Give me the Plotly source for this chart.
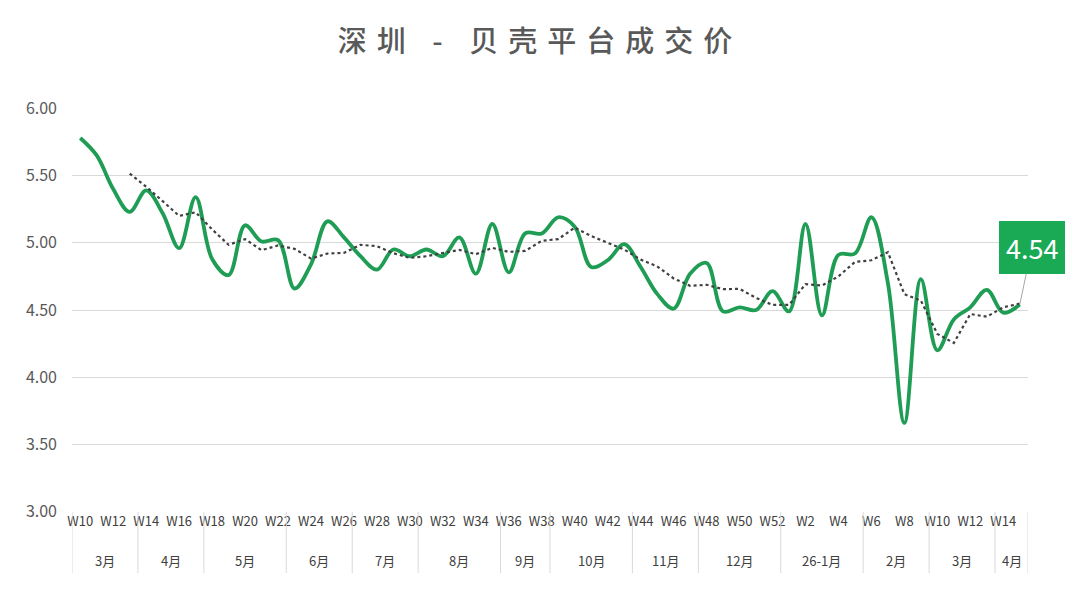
import plotly.graph_objects as go

# ---------------- data ----------------
weeks = ["W%d" % w for w in range(10, 53)] + ["W%d" % w for w in range(1, 16)]
month_groups = ["3月", "4月", "5月", "6月", "7月", "8月", "9月", "10月",
                "11月", "12月", "26-1月", "2月", "3月", "4月"]
month_sizes = [4, 4, 5, 4, 4, 5, 3, 5, 4, 5, 5, 4, 4, 2]
price = [5.78, 5.65, 5.40, 5.23, 5.39, 5.22, 4.96, 5.34, 4.88, 4.76,
         5.13, 5.01, 5.02, 4.66, 4.84, 5.16, 5.04, 4.90, 4.80, 4.95,
         4.90, 4.95, 4.90, 5.04, 4.77, 5.14, 4.78, 5.07, 5.07, 5.19,
         5.12, 4.82, 4.87, 4.99, 4.82, 4.62, 4.51, 4.77, 4.85, 4.49,
         4.52, 4.50, 4.64, 4.49, 5.14, 4.46, 4.91, 4.92, 5.19, 4.70,
         3.66, 4.73, 4.20, 4.43, 4.52, 4.65, 4.48, 4.54]
ma_period = 4
title = "深圳 - 贝壳平台成交价"
yticks = [3.0, 3.5, 4.0, 4.5, 5.0, 5.5, 6.0]

# ---------------- derived ----------------
idx = list(range(len(weeks)))
ma = [None] * len(price)
for i in range(ma_period - 1, len(price)):
    ma[i] = sum(price[i - ma_period + 1:i + 1]) / ma_period

FONT = "Noto Sans CJK SC, Noto Sans, sans-serif"
GREEN = "#1F9D55"

fig = go.Figure()
fig.add_trace(go.Scatter(
    x=idx, y=price, mode="lines",
    line=dict(color=GREEN, width=3.8, shape="spline", smoothing=1.0),
    showlegend=False, hoverinfo="skip"))
fig.add_trace(go.Scatter(
    x=idx, y=ma, mode="lines",
    line=dict(color="#404040", width=2.2, dash="dot"),
    showlegend=False, hoverinfo="skip"))

# last value label
fig.add_annotation(
    x=idx[-1], y=price[-1], xref="x", yref="y",
    text="%.2f" % price[-1], showarrow=True, arrowhead=0, arrowwidth=1,
    arrowcolor="#A6A6A6", ax=12, ay=-57,
    bgcolor="#1AA955", bordercolor="#1AA955", borderpad=6,
    font=dict(family=FONT, size=27, color="white"))

# month group labels and dividers
plot_h = 404.0
start = 0
bounds = [-0.5]
for name, n in zip(month_groups, month_sizes):
    center = start + (n - 1) / 2.0
    fig.add_annotation(x=center, y=-48 / plot_h, xref="x", yref="paper",
                       yanchor="middle", xanchor="center",
                       text=name, showarrow=False,
                       font=dict(family=FONT, size=13, color="#404040"))
    start += n
    bounds.append(start - 0.5)
for b in bounds:
    fig.add_shape(type="line", xref="x", yref="paper", x0=b, x1=b,
                  y0=0, y1=-61 / plot_h,
                  line=dict(color="#D9D9D9", width=1))

fig.update_layout(
    width=1080, height=601,
    paper_bgcolor="white", plot_bgcolor="white",
    margin=dict(l=72, r=52, t=108, b=89),
    title=dict(text=title, x=0.5, xanchor="center", y=1 - 42 / 601,
               yanchor="middle",
               font=dict(family=FONT, size=29, color="#595959", weight=500)),
    xaxis=dict(range=[-0.5, len(weeks) - 0.5], tickmode="array",
               tickvals=idx[::2], ticktext=weeks[::2],
               showgrid=False, zeroline=False, showline=False, ticks="",
               tickfont=dict(family=FONT, size=13, color="#404040"),
               fixedrange=True),
    yaxis=dict(range=[2.997, 6.003], tickmode="array", tickvals=yticks,
               ticktext=["%.2f" % v for v in yticks],
               showgrid=True, gridcolor="#D9D9D9", gridwidth=1,
               zeroline=False, showline=False, ticks="",
               ticklabelstandoff=14,
               tickfont=dict(family=FONT, size=16, color="#595959"),
               fixedrange=True),
)

post = ("document.body.style.margin='0';"
        "document.querySelectorAll('.gtitle').forEach(function(e){"
        "e.style.letterSpacing='10px';});")
fig.write_html("out.html", post_script=post,
               config={"displayModeBar": False, "staticPlot": True})
